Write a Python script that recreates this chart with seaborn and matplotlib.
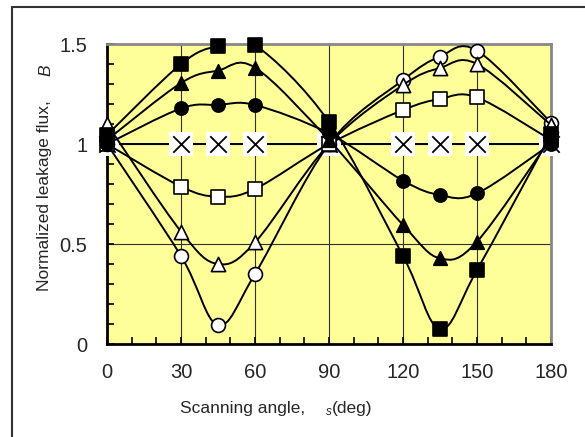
import numpy as np
import matplotlib
matplotlib.use('Agg')
import matplotlib.pyplot as plt
import seaborn as sns
from matplotlib.path import Path
from matplotlib.patches import PathPatch
from matplotlib.lines import Line2D
from matplotlib.ticker import MultipleLocator

# Scanning angle (deg)
angles = [0, 30, 45, 60, 90, 120, 135, 150, 180]

# Normalized leakage flux B, one list per marker series
b_filled_square = [1.045, 1.40, 1.49, 1.495, 1.11, 0.44, 0.075, 0.37, 1.05]
b_filled_triangle = [1.02, 1.305, 1.367, 1.382, 1.02, 0.595, 0.428, 0.512, 1.03]
b_filled_circle = [1.0, 1.178, 1.195, 1.195, 1.053, 0.817, 0.745, 0.753, 1.0]
b_cross = [1.0, 1.0, 1.0, 1.0, 1.0, 1.0, 1.0, 1.0, 1.0]
b_open_square = [1.0, 0.787, 0.737, 0.775, 1.0, 1.17, 1.225, 1.233, 1.02]
b_open_triangle = [1.10, 0.562, 0.40, 0.508, 1.0, 1.295, 1.38, 1.40, 1.095]
b_open_circle = [1.0, 0.44, 0.095, 0.35, 1.0, 1.32, 1.437, 1.467, 1.107]

x_ticks = [0, 30, 60, 90, 120, 150, 180]
y_ticks = [0, 0.5, 1, 1.5]
y_tick_labels = ['0', '0.5', '1', '1.5']


def smooth_path(xs, ys):
    # Excel style smoothed line: cubic bezier through the points
    pts = np.column_stack([xs, ys]).astype(float)
    n = len(pts)
    verts = [pts[0]]
    codes = [Path.MOVETO]
    for i in range(n - 1):
        p0 = pts[i - 1] if i > 0 else pts[i]
        p1 = pts[i]
        p2 = pts[i + 1]
        p3 = pts[i + 2] if i + 2 < n else pts[i + 1]
        c1 = p1 + (p2 - p0) / 6.0
        c2 = p2 - (p3 - p1) / 6.0
        verts += [c1, c2, p2]
        codes += [Path.CURVE4] * 3
    return Path(verts, codes)


sns.set_style('ticks')
plt.rcParams['font.family'] = ['Liberation Sans', 'DejaVu Sans']

fig = plt.figure(figsize=(5.85, 4.37), dpi=100)
ax = fig.add_axes([107 / 585, 1 - 344 / 437, 444 / 585, 300 / 437])
ax.set_facecolor('#FFFF99')

# draw order: cross first, filled series last (on top)
series = [
    (b_cross, None),
    (b_open_circle, dict(marker='o', s=100, color='white')),
    (b_open_triangle, dict(marker='^', s=105, color='white')),
    (b_open_square, dict(marker='s', s=95, color='white')),
    (b_filled_circle, dict(marker='o', s=90, color='black')),
    (b_filled_triangle, dict(marker='^', s=95, color='black')),
    (b_filled_square, dict(marker='s', s=90, color='black')),
]

z = 3
for ys, style in series:
    ax.add_patch(PathPatch(smooth_path(angles, ys), facecolor='none',
                           edgecolor='black', lw=1.4, zorder=z))
    if style is None:
        sns.scatterplot(x=angles, y=ys, marker='s', s=320, color='white',
                        edgecolor='none', ax=ax, zorder=z + 0.1, clip_on=False)
        sns.scatterplot(x=angles, y=ys, marker='x', s=140, color='black',
                        linewidth=1.3, ax=ax, zorder=z + 0.2, clip_on=False)
    else:
        sns.scatterplot(x=angles, y=ys, edgecolor='black', linewidth=1.2,
                        ax=ax, zorder=z + 0.1, clip_on=False, **style)
    z += 1

ax.set_xlim(0, 180)
ax.set_ylim(0, 1.5)
ax.set_xticks(x_ticks)
ax.set_xticklabels([str(t) for t in x_ticks], fontsize=14.5)
ax.set_yticks(y_ticks)
ax.set_yticklabels(y_tick_labels, fontsize=14.5)
ax.xaxis.set_minor_locator(MultipleLocator(10))
ax.yaxis.set_minor_locator(MultipleLocator(0.1))
ax.tick_params(which='both', direction='in', length=5, width=1.2,
               color='black', top=False, right=False)
ax.tick_params(axis='x', pad=14)
ax.tick_params(axis='y', pad=14)

ax.grid(which='major', color='#303030', lw=0.8, zorder=1)
ax.set_axisbelow(True)
for side in ['left', 'bottom']:
    ax.spines[side].set_color('black')
    ax.spines[side].set_linewidth(2)
for side in ['top', 'right']:
    ax.spines[side].set_visible(True)
    ax.spines[side].set_color('#888888')
    ax.spines[side].set_linewidth(2)

# axis labels
fig.text(180 / 585, 1 - 408 / 437, 'Scanning angle,', fontsize=12.5,
         ha='left', va='center')
fig.text(326 / 585, 1 - 412 / 437, 's', fontsize=8.5, style='italic',
         ha='left', va='center')
fig.text(332 / 585, 1 - 408 / 437, '(deg)', fontsize=12.5,
         ha='left', va='center')
fig.text(45 / 585, 1 - 196 / 437, 'Normalized leakage flux,', fontsize=12.5,
         rotation=90, ha='center', va='center')
fig.text(46 / 585, 1 - 70 / 437, 'B', fontsize=12.5, style='italic',
         rotation=90, ha='center', va='center')

# outer frame (left and top edges)
fig.add_artist(Line2D([12 / 585, 12 / 585], [0, 1 - 7 / 437],
                      color='#333333', lw=1.5))
fig.add_artist(Line2D([12 / 585, 1], [1 - 7 / 437, 1 - 7 / 437],
                      color='#333333', lw=1.5))

fig.savefig('out.png', dpi=100)
